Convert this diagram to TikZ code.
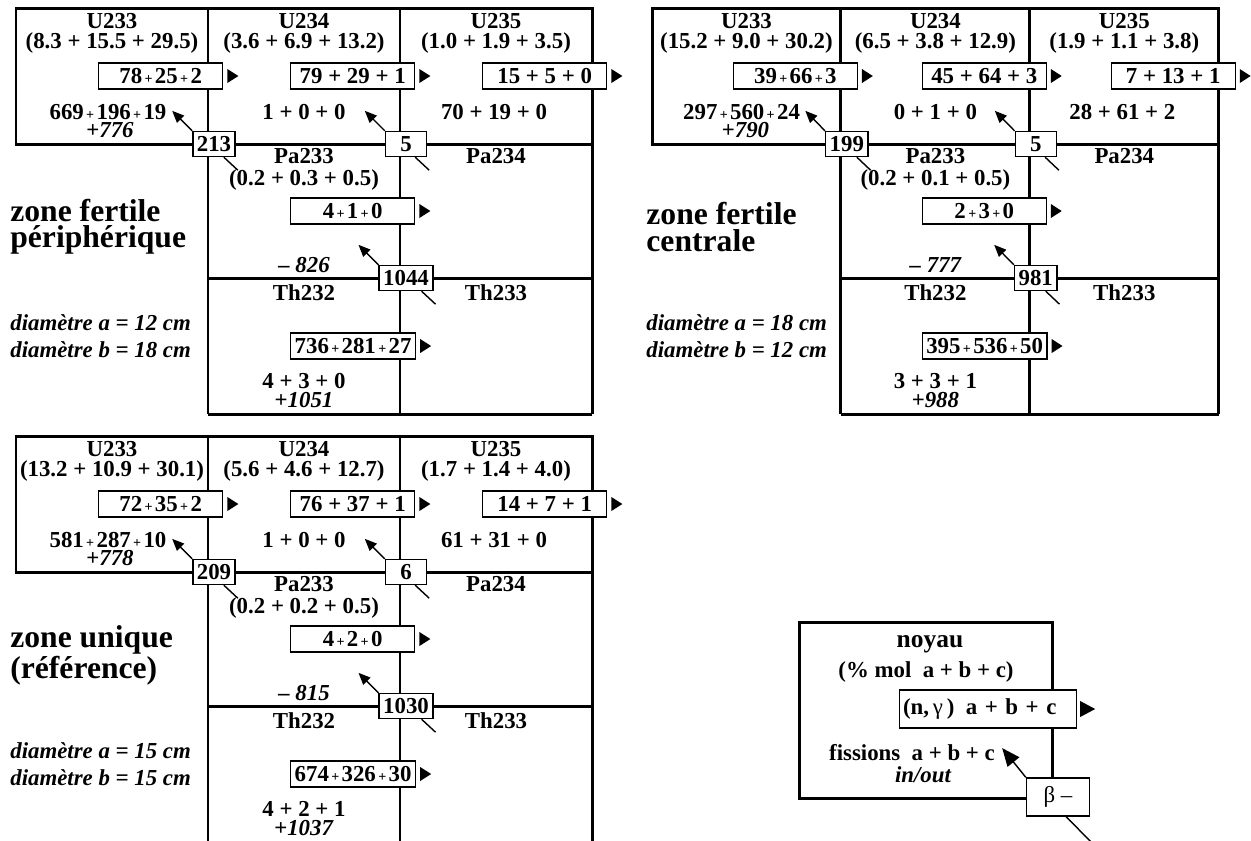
\documentclass[tikz,border=0pt]{standalone}
\usepackage{fontspec}
\setmainfont{Liberation Serif}
\usetikzlibrary{arrows.meta,positioning,calc}

% petit signe plus des bilans
\newcommand{\pl}{{\fontsize{8}{8}\selectfont\,+\,}}
% grille d'une zone (origine en haut a gauche)
\newcommand{\grille}{%
  \draw[trait] (0,0) rectangle (576,136);
  \draw[trait] (192,0) -- (192,406) (384,0) -- (384,406) (576,136) -- (576,406)
    (192,270) -- (576,270) (192,406) -- (576,406);}
% captures et decroissances d'une zone
\newcommand{\fleches}{%
  \foreach \nc in {cU233,cU234,cU235,cPa,cTh}
    \fill ($(\nc.east)+(4,-7)$) -- ++(11,7) -- ++(-11,7) -- cycle;
  \foreach \nd in {dU,dPa,dTh} {
    \coordinate (\nd-fis) at ($(\nd.north west)+(-20,-20)$);
    \coordinate (\nd-src) at ($(\nd.south east)+(2,13)$);
    \draw[fl] (\nd.north west) -- (\nd-fis);
    \draw[queue] ($(\nd.south east)+(-12,0)$) -- (\nd-src);}}

\begin{document}
\begin{tikzpicture}[x=0.02cm, y=-0.02cm, font=\fontsize{13}{13}\selectfont\bfseries]
\tikzset{trait/.style={line width=1.7pt}, queue/.style={line width=0.8pt},
  fl/.style={line width=0.8pt, -{Triangle[length=2.4mm, width=2mm]}},
  capt/.style={draw, line width=0.8pt, fill=white, minimum width=2.48cm, minimum height=0.52cm, inner xsep=0.08cm, inner ysep=0pt, anchor=west},
  dec/.style={draw, line width=0.8pt, fill=white, minimum width=0.82cm, minimum height=0.5cm, inner xsep=0.08cm, inner ysep=0pt},
  txt/.style={inner sep=0pt, anchor=base},
  ital/.style={txt, font=\fontsize{13}{13}\selectfont\bfseries\itshape},
  zone/.style={inner sep=0pt, anchor=west, align=left, font=\fontsize{18}{15}\selectfont\bfseries},
  diam/.style={ital, anchor=base west}}
\useasboundingbox (0,0) rectangle (1251,840);

% zone fertile peripherique
\begin{scope}[shift={(16,8)}, name prefix=peri-]
\grille
\node[txt] (U233) at (96,20) {U233};
\node[txt] (U234) at (288,20) {U234};
\node[txt] (U235) at (480,20) {U235};
\node[txt] (mU233) at (96,40) {(8.3 + 15.5 + 29.5)};
\node[txt] (mU234) at (288,40) {(3.6 + 6.9 + 13.2)};
\node[txt] (mU235) at (480,40) {(1.0 + 1.9 + 3.5)};
\node[capt] (cU233) at (82,68) {78\pl25\pl2};
\node[capt] (cU234) at (274,68) {79 + 29 + 1};
\node[capt] (cU235) at (466,68) {15 + 5 + 0};
\node[txt] (fU233) at (92,111) {669\pl196\pl19};
\node[txt] (bU233) at (94,129) {+\textit{776}};
\node[txt] (fU234) at (288,111) {1 + 0 + 0};
\node[txt] (fU235) at (478,111) {70 + 19 + 0};
\node[txt] (Pa233) at (288,155) {Pa233};
\node[txt] (mPa233) at (288,177) {(0.2 + 0.3 + 0.5)};
\node[txt] (Pa234) at (480,155) {Pa234};
\node[capt] (cPa) at (274,203) {4\pl1\pl0};
\node[ital] (bPa) at (288,264) {– 826};
\node[txt] (Th232) at (288,292) {Th232};
\node[txt] (Th233) at (480,292) {Th233};
\node[capt] (cTh) at (274,338) {736\pl281\pl27};
\node[txt] (fTh) at (288,380) {4 + 3 + 0};
\node[txt] (bTh) at (288,399) {+\textit{1051}};
\node[dec] (dU) at (198,136) {213};
\node[dec] (dPa) at (390,136) {5};
\node[dec] (dTh) at (390,270) {1044};
\fleches
\node[zone] (nom) at (-6,219) {zone fertile\\périphérique};
\node[diam] (da) at (-6,322) {diamètre a = 12 cm};
\node[diam] (db) at (-6,349) {diamètre b = 18 cm};
\end{scope}

% zone fertile centrale
\begin{scope}[shift={(652,8)}, xscale=0.984, name prefix=cent-]
\grille
\node[txt] (U233) at (96,20) {U233};
\node[txt] (U234) at (288,20) {U234};
\node[txt] (U235) at (480,20) {U235};
\node[txt] (mU233) at (96,40) {(15.2 + 9.0 + 30.2)};
\node[txt] (mU234) at (288,40) {(6.5 + 3.8 + 12.9)};
\node[txt] (mU235) at (480,40) {(1.9 + 1.1 + 3.8)};
\node[capt] (cU233) at (82,68) {39\pl66\pl3};
\node[capt] (cU234) at (274,68) {45 + 64 + 3};
\node[capt] (cU235) at (466,68) {7 + 13 + 1};
\node[txt] (fU233) at (91,111) {297\pl560\pl24};
\node[txt] (bU233) at (95,129) {+\textit{790}};
\node[txt] (fU234) at (288,111) {0 + 1 + 0};
\node[txt] (fU235) at (478,111) {28 + 61 + 2};
\node[txt] (Pa233) at (288,155) {Pa233};
\node[txt] (mPa233) at (288,177) {(0.2 + 0.1 + 0.5)};
\node[txt] (Pa234) at (480,155) {Pa234};
\node[capt] (cPa) at (274,203) {2\pl3\pl0};
\node[ital] (bPa) at (288,264) {– 777};
\node[txt] (Th232) at (288,292) {Th232};
\node[txt] (Th233) at (480,292) {Th233};
\node[capt] (cTh) at (274,338) {395\pl536\pl50};
\node[txt] (fTh) at (288,380) {3 + 3 + 1};
\node[txt] (bTh) at (288,399) {+\textit{988}};
\node[dec] (dU) at (198,136) {199};
\node[dec] (dPa) at (390,136) {5};
\node[dec] (dTh) at (390,270) {981};
\fleches
\node[zone] (nom) at (-6,219) {zone fertile\\centrale};
\node[diam] (da) at (-6,322) {diamètre a = 18 cm};
\node[diam] (db) at (-6,349) {diamètre b = 12 cm};
\end{scope}

% zone unique (reference)
\begin{scope}[shift={(16,436)}, name prefix=uniq-]
\grille
\node[txt] (U233) at (96,20) {U233};
\node[txt] (U234) at (288,20) {U234};
\node[txt] (U235) at (480,20) {U235};
\node[txt] (mU233) at (96,40) {(13.2 + 10.9 + 30.1)};
\node[txt] (mU234) at (288,40) {(5.6 + 4.6 + 12.7)};
\node[txt] (mU235) at (480,40) {(1.7 + 1.4 + 4.0)};
\node[capt] (cU233) at (82,68) {72\pl35\pl2};
\node[capt] (cU234) at (274,68) {76 + 37 + 1};
\node[capt] (cU235) at (466,68) {14 + 7 + 1};
\node[txt] (fU233) at (92,111) {581\pl287\pl10};
\node[txt] (bU233) at (94,129) {+\textit{778}};
\node[txt] (fU234) at (288,111) {1 + 0 + 0};
\node[txt] (fU235) at (478,111) {61 + 31 + 0};
\node[txt] (Pa233) at (288,155) {Pa233};
\node[txt] (mPa233) at (288,177) {(0.2 + 0.2 + 0.5)};
\node[txt] (Pa234) at (480,155) {Pa234};
\node[capt] (cPa) at (274,203) {4\pl2\pl0};
\node[ital] (bPa) at (288,264) {– 815};
\node[txt] (Th232) at (288,292) {Th232};
\node[txt] (Th233) at (480,292) {Th233};
\node[capt] (cTh) at (274,338) {674\pl326\pl30};
\node[txt] (fTh) at (288,380) {4 + 2 + 1};
\node[txt] (bTh) at (288,399) {+\textit{1037}};
\node[dec] (dU) at (198,136) {209};
\node[dec] (dPa) at (390,136) {6};
\node[dec] (dTh) at (390,270) {1030};
\fleches
\node[zone] (nom) at (-6,219) {zone unique\\(référence)};
\node[diam] (da) at (-6,322) {diamètre a = 15 cm};
\node[diam] (db) at (-6,349) {diamètre b = 15 cm};
\end{scope}

% legende
\draw[trait] (799,622) rectangle (1052,798);
\node[txt, font=\fontsize{14.5}{14.5}\selectfont\bfseries] (lnoyau) at (930,647) {noyau};
\node[txt] (lmol) at (926,677) {(\% mol\enspace a + b + c)};
\node[capt, anchor=center, text width=3.4cm, inner xsep=0.07cm, minimum height=0.76cm, align=left] (lcapt) at (988,709) {(n,\,\textmd{γ}\,)\enspace a + b + c};
\fill ($(lcapt.east)+(3,-8)$) -- ++(15,8) -- ++(-15,8) -- cycle;
\node[txt] (lfis) at (912,760) {fissions\enspace a + b + c};
\node[ital] (lio) at (923,782) {in/out};
\node[dec, minimum width=1.26cm, minimum height=0.76cm] (lbeta) at (1058,797) {\textmd{β –}};
\coordinate (lcible) at ($(lfis.east)+(7,-4)$);
\coordinate (lsrc) at (1092,843);
\draw[fl, -{Triangle[length=3.6mm, width=3mm]}] (lbeta.north west) -- (lcible);
\draw[queue] ($(lbeta.south east)+(-24,0)$) -- (lsrc);
\end{tikzpicture}
\end{document}
